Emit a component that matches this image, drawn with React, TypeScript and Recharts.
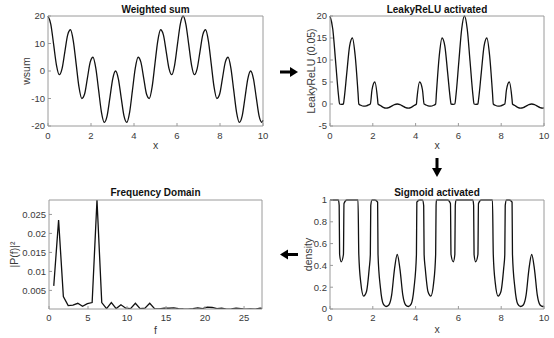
import { LineChart, Line, XAxis, YAxis } from "recharts";

// weighted sum
const wX = [
  0, 0.131, 0.262, 0.393, 0.524, 0.654, 0.785, 0.916, 1.047, 1.178,
  1.309, 1.44, 1.571, 1.702, 1.833, 1.963, 2.094, 2.225, 2.356, 2.487,
  2.618, 2.749, 2.88, 3.011, 3.142, 3.272, 3.403, 3.534, 3.665, 3.796,
  3.927, 4.058, 4.189, 4.32, 4.451, 4.581, 4.712, 4.843, 4.974, 5.105,
  5.236, 5.367, 5.498, 5.629, 5.76, 5.89, 6.021, 6.152, 6.283, 6.414,
  6.545, 6.676, 6.807, 6.938, 7.069, 7.199, 7.33, 7.461, 7.592, 7.723,
  7.854, 7.985, 8.116, 8.247, 8.378, 8.508, 8.639, 8.77, 8.901, 9.032,
  9.163, 9.294, 9.425, 9.556, 9.687, 9.817, 9.948, 10,
];
const wsum = [
  20, 16.99, 9.66, 2.17, -1.34, 0.86, 7.07, 13.16, 15, 10.9,
  2.59, -5.77, -10, -8.38, -2.59, 3.24, 5, 0.98, -7.07, -15.01,
  -18.66, -16.31, -9.66, -2.84, 0, -2.84, -9.66, -16.31, -18.66, -15.01,
  -7.07, 0.98, 5, 3.24, -2.59, -8.38, -10, -5.77, 2.59, 10.9,
  15, 13.16, 7.07, 0.86, -1.34, 2.17, 9.66, 16.99, 20, 16.99,
  9.66, 2.17, -1.34, 0.86, 7.07, 13.16, 15, 10.9, 2.59, -5.77,
  -10, -8.38, -2.59, 3.24, 5, 0.98, -7.07, -15.01, -18.66, -16.31,
  -9.66, -2.84, 0, -2.84, -9.66, -16.31, -18.66, -17.92,
];

// LeakyReLU (0.05)
const leakyX = [
  0, 0.131, 0.262, 0.393, 0.449, 0.524, 0.628, 0.654, 0.785, 0.916,
  1.047, 1.178, 1.309, 1.346, 1.44, 1.571, 1.702, 1.833, 1.885, 1.963,
  2.094, 2.225, 2.244, 2.356, 2.487, 2.618, 2.749, 2.88, 3.011, 3.142,
  3.272, 3.403, 3.534, 3.665, 3.796, 3.927, 4.039, 4.058, 4.189, 4.32,
  4.398, 4.451, 4.581, 4.712, 4.843, 4.937, 4.974, 5.105, 5.236, 5.367,
  5.498, 5.629, 5.655, 5.76, 5.834, 5.89, 6.021, 6.152, 6.283, 6.414,
  6.545, 6.676, 6.732, 6.807, 6.912, 6.938, 7.069, 7.199, 7.33, 7.461,
  7.592, 7.63, 7.723, 7.854, 7.985, 8.116, 8.168, 8.247, 8.378, 8.508,
  8.527, 8.639, 8.77, 8.901, 9.032, 9.163, 9.294, 9.425, 9.556, 9.687,
  9.817, 9.948, 10,
];
const leaky = [
  20, 16.99, 9.66, 2.17, 0, -0.07, 0, 0.86, 7.07, 13.16,
  15, 10.9, 2.59, 0, -0.29, -0.5, -0.42, -0.13, 0, 3.24,
  5, 0.98, 0, -0.35, -0.75, -0.93, -0.82, -0.48, -0.14, 0,
  -0.14, -0.48, -0.82, -0.93, -0.75, -0.35, 0, 0.98, 5, 3.24,
  0, -0.13, -0.42, -0.5, -0.29, 0, 2.59, 10.9, 15, 13.16,
  7.07, 0.86, 0, -0.07, 0, 2.17, 9.66, 16.99, 20, 16.99,
  9.66, 2.17, 0, -0.07, 0, 0.86, 7.07, 13.16, 15, 10.9,
  2.59, 0, -0.29, -0.5, -0.42, -0.13, 0, 3.24, 5, 0.98,
  0, -0.35, -0.75, -0.93, -0.82, -0.48, -0.14, 0, -0.14, -0.48,
  -0.82, -0.93, -0.9,
];

// sigmoid
const sigX = [
  0, 0.131, 0.262, 0.393, 0.429, 0.449, 0.524, 0.628, 0.654, 0.785,
  0.916, 1.047, 1.178, 1.309, 1.346, 1.44, 1.571, 1.702, 1.833, 1.885,
  1.905, 1.963, 2.094, 2.225, 2.244, 2.356, 2.487, 2.618, 2.749, 2.88,
  3.011, 3.142, 3.272, 3.403, 3.534, 3.665, 3.796, 3.927, 4.039, 4.058,
  4.189, 4.32, 4.378, 4.398, 4.451, 4.581, 4.712, 4.843, 4.937, 4.957,
  4.974, 5.105, 5.236, 5.367, 5.498, 5.629, 5.655, 5.76, 5.834, 5.854,
  5.89, 6.021, 6.152, 6.283, 6.414, 6.545, 6.676, 6.712, 6.732, 6.807,
  6.912, 6.938, 7.069, 7.199, 7.33, 7.461, 7.592, 7.63, 7.723, 7.854,
  7.985, 8.116, 8.168, 8.188, 8.247, 8.378, 8.508, 8.527, 8.639, 8.77,
  8.901, 9.032, 9.163, 9.294, 9.425, 9.556, 9.687, 9.817, 9.948, 10,
];
const density = [
  1, 1, 1, 1, 0.95, 0.5, 0.433, 0.5, 0.969, 1,
  1, 1, 1, 1, 0.5, 0.24, 0.119, 0.158, 0.373, 0.5,
  0.95, 1, 1, 0.98, 0.5, 0.196, 0.047, 0.023, 0.037, 0.127,
  0.362, 0.5, 0.362, 0.127, 0.037, 0.023, 0.047, 0.196, 0.5, 0.98,
  1, 1, 0.95, 0.5, 0.373, 0.158, 0.119, 0.24, 0.5, 0.95,
  1, 1, 1, 1, 1, 0.969, 0.5, 0.433, 0.5, 0.95,
  1, 1, 1, 1, 1, 1, 1, 0.95, 0.5, 0.433,
  0.5, 0.969, 1, 1, 1, 1, 1, 0.5, 0.24, 0.119,
  0.158, 0.373, 0.5, 0.95, 1, 1, 0.98, 0.5, 0.196, 0.047,
  0.023, 0.037, 0.127, 0.362, 0.5, 0.362, 0.127, 0.037, 0.023, 0.027,
];

// frequency domain
const freq = [
  0.61, 1.23, 1.84, 2.46, 3.07, 3.69, 4.3, 4.92, 5.53, 6.15,
  6.76, 7.38, 7.99, 8.61, 9.22, 9.84, 10.45, 11.07, 11.68, 12.3,
  12.91, 13.53, 14.14, 14.76, 15.37, 15.99, 16.6, 17.22, 17.83, 18.45,
  19.06, 19.68, 20.29, 20.91, 21.52, 22.14, 22.75, 23.37, 23.98, 24.6,
  25.21, 25.83, 26.44, 27.06, 27.68,
];
const power = [
  0.0062, 0.0235, 0.0034, 0.001, 0.0011, 0.0016, 0.0008, 0.0015, 0.0018, 0.0288,
  0.0018, 0.0002, 0.0018, 0.0002, 0.0012, 0.0003, 0.0002, 0.0016, 0.0002, 0.0003,
  0.0016, 0.0002, 0.0001, 0.0003, 0.0003, 0.0004, 0.0002, 0.0001, 0.00005, 0.0002,
  0.0004, 0.0002, 0.0006, 0.0005, 0.0002, 0.0003, 0.00005, 0.0001, 0.0003, 0.0002,
  0.00005, 0.0001, 0.00005, 0.0003, 0.0002,
];

const xTicks10 = [0, 2, 4, 6, 8, 10];
const wTicks = [-20, -10, 0, 10, 20];
const leakyTicks = [-5, 0, 5, 10, 15, 20];
const densityTicks = [0, 0.2, 0.4, 0.6, 0.8, 1];
const freqTicks = [0, 5, 10, 15, 20, 25];
const powerTicks = [0.005, 0.01, 0.015, 0.02, 0.025];

const toPoints = (xs: number[], ys: number[]) => xs.map((x, i) => ({ x, y: ys[i] }));

const boxColor = "#9a9a9a";
const textColor = "#3a3a3a";
const tickStyle = { fill: textColor, fontSize: 9.5 };

type PanelProps = {
  left: number;
  top: number;
  leftW: number;
  rightW: number;
  topH: number;
  bottomH: number;
  data: { x: number; y: number }[];
  xDomain: [number, number];
  xTicks: number[];
  yDomain: [number, number];
  yTicks: number[];
  xLabel: string;
  yLabel: string;
  xTickMargin: number;
  xLabelOffset: number;
  yLabelOffset: number;
  curve: "monotone" | "linear";
  overflow?: boolean;
};

// one MATLAB-style subplot: box on, ticks pointing inwards
function Panel(p: PanelProps) {
  const line = { stroke: boxColor };
  return (
    <div style={{ position: "absolute", left: p.left, top: p.top }}>
      <LineChart width={277} height={169} data={p.data} margin={{ top: 0, right: 0, bottom: 0, left: 0 }}>
        <XAxis
          xAxisId="b"
          dataKey="x"
          type="number"
          domain={p.xDomain}
          ticks={p.xTicks}
          interval={0}
          allowDataOverflow={!!p.overflow}
          height={p.bottomH}
          tickSize={-3}
          tickMargin={p.xTickMargin}
          tick={tickStyle}
          tickLine={line}
          axisLine={line}
          label={{ value: p.xLabel, position: "insideBottom", offset: p.xLabelOffset, fill: textColor, fontSize: 10.5 }}
        />
        <XAxis
          xAxisId="t"
          orientation="top"
          type="number"
          domain={p.xDomain}
          ticks={p.xTicks}
          interval={0}
          height={p.topH}
          tickSize={-3}
          tick={false}
          tickLine={line}
          axisLine={line}
        />
        <YAxis
          yAxisId="l"
          type="number"
          domain={p.yDomain}
          ticks={p.yTicks}
          interval={0}
          allowDataOverflow={!!p.overflow}
          width={p.leftW}
          tickSize={-3}
          tickMargin={6}
          tick={tickStyle}
          tickLine={line}
          axisLine={line}
          label={{
            value: p.yLabel,
            angle: -90,
            position: "insideLeft",
            offset: p.yLabelOffset,
            fill: textColor,
            fontSize: 10.5,
            style: { textAnchor: "middle" },
          }}
        />
        <YAxis
          yAxisId="r"
          orientation="right"
          type="number"
          domain={p.yDomain}
          ticks={p.yTicks}
          interval={0}
          width={p.rightW}
          tickSize={-3}
          tick={false}
          tickLine={line}
          axisLine={line}
        />
        <Line
          xAxisId="b"
          yAxisId="l"
          dataKey="y"
          type={p.curve}
          stroke="#111"
          strokeWidth={1.3}
          dot={false}
          isAnimationActive={false}
        />
      </LineChart>
    </div>
  );
}

export default function App() {
  return (
    <div
      style={{
        position: "absolute",
        left: 0,
        top: 0,
        width: 554,
        height: 338,
        background: "#fff",
        fontFamily: "'Liberation Sans', Arial, Helvetica, sans-serif",
      }}
    >
      <Panel
        left={0} top={0} leftW={48} rightW={14} topH={16} bottomH={43}
        data={toPoints(wX, wsum)}
        xDomain={[0, 10]} xTicks={xTicks10} yDomain={[-20, 20]} yTicks={wTicks}
        xLabel="x" yLabel="wsum" xTickMargin={9} xLabelOffset={20} yLabelOffset={26}
        curve="monotone"
      />
      <Panel
        left={277} top={0} leftW={53} rightW={10} topH={16} bottomH={43}
        data={toPoints(leakyX, leaky)}
        xDomain={[0, 10]} xTicks={xTicks10} yDomain={[-5, 20]} yTicks={leakyTicks}
        xLabel="x" yLabel="LeakyReLU (0.05)" xTickMargin={9} xLabelOffset={20} yLabelOffset={34}
        curve="monotone"
      />
      <Panel
        left={0} top={169} leftW={49} rightW={15} topH={31} bottomH={29}
        data={toPoints(freq, power)}
        xDomain={[0, 27.3]} xTicks={freqTicks} yDomain={[0.0001, 0.0288]} yTicks={powerTicks}
        xLabel="f" yLabel="|P(f)|²" xTickMargin={8} xLabelOffset={4} yLabelOffset={14}
        curve="linear" overflow
      />
      <Panel
        left={277} top={169} leftW={53} rightW={10} topH={31} bottomH={29}
        data={toPoints(sigX, density)}
        xDomain={[0, 10]} xTicks={xTicks10} yDomain={[0, 1]} yTicks={densityTicks}
        xLabel="x" yLabel="density" xTickMargin={8} xLabelOffset={5} yLabelOffset={31}
        curve="monotone"
      />
      <svg
        width={554}
        height={338}
        style={{ position: "absolute", left: 0, top: 0, pointerEvents: "none" }}
      >
        <g fontSize={10} fontWeight="bold" fill="#111" textAnchor="middle">
          <text x={155.5} y={12.6}>Weighted sum</text>
          <text x={437} y={12.6}>LeakyReLU activated</text>
          <text x={155.5} y={196}>Frequency Domain</text>
          <text x={437} y={196}>Sigmoid activated</text>
        </g>
        <g fill="#000">
          <rect x={280} y={70.5} width={11} height={3} />
          <polygon points="290,67 298,72 290,77" />
          <rect x={435.5} y={158} width={3} height={11} />
          <polygon points="432,168 437,177 442,168" />
          <rect x={287} y={253} width={11} height={3} />
          <polygon points="288,249.5 280,254.5 288,259.5" />
        </g>
      </svg>
    </div>
  );
}
